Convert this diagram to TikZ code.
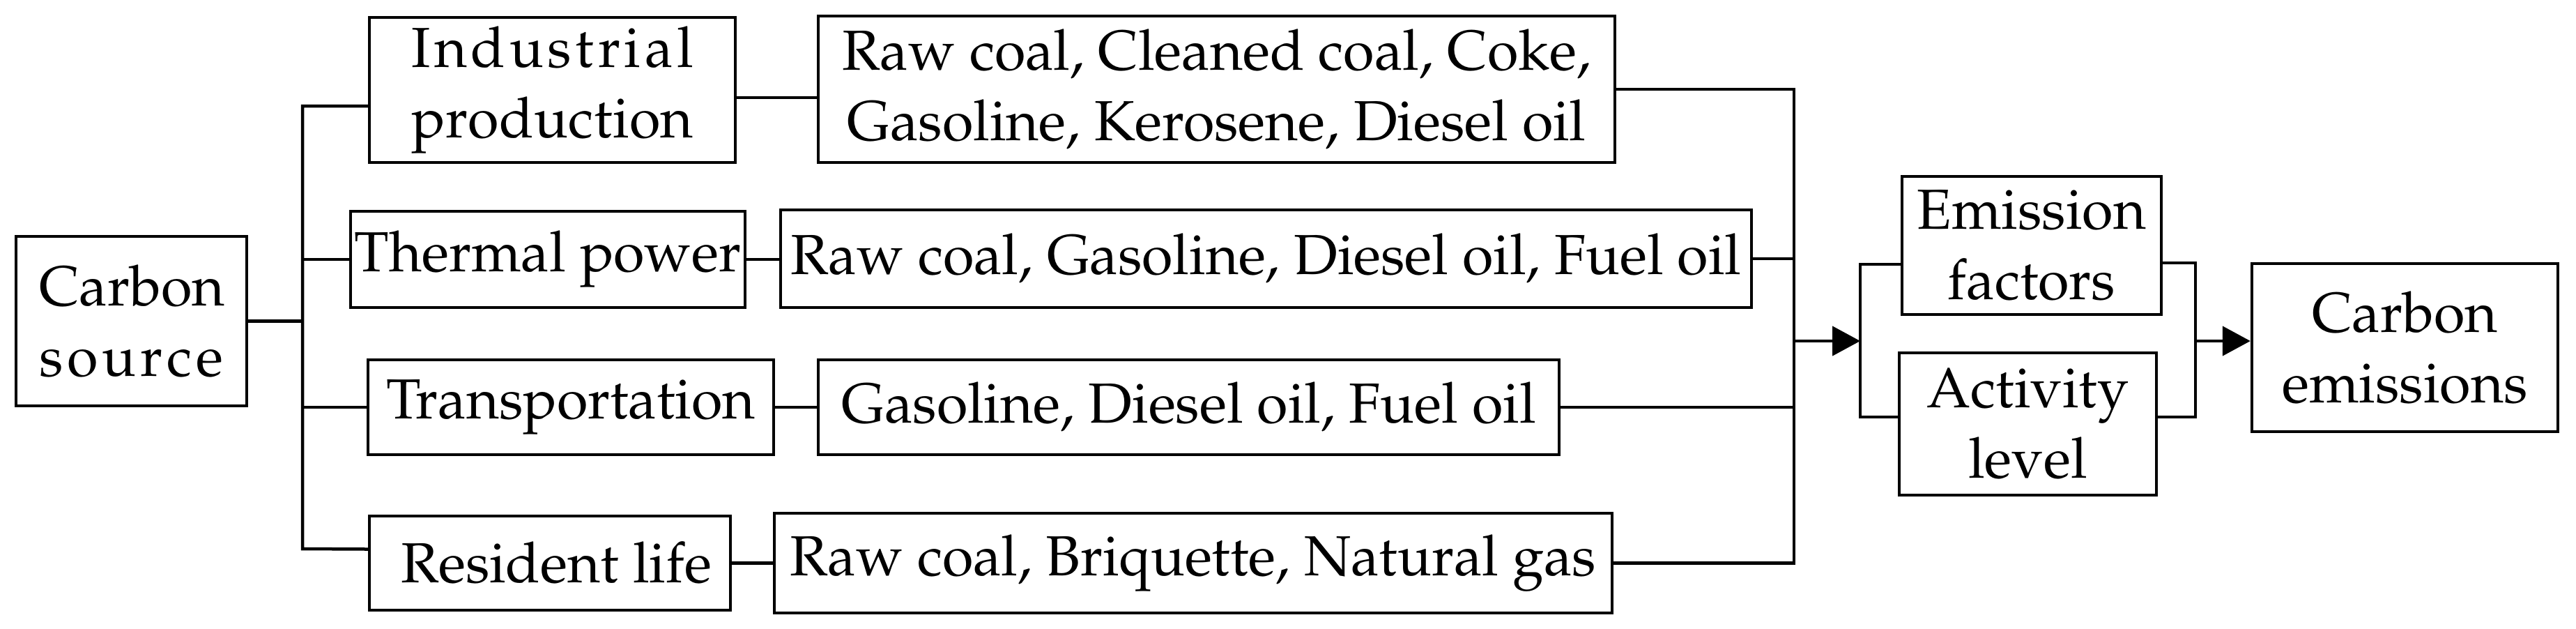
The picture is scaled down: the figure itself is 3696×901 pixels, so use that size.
\documentclass[tikz,border=0pt]{standalone}
\usepackage[T1]{fontenc}
\usepackage{mathpazo}
\usepackage{calc}
\usetikzlibrary{arrows.meta}

\tikzset{
  box/.style={draw, line width=0.45pt, align=center, inner sep=0pt, font=\fontsize{8.1}{10.1}\selectfont},
  link/.style={line width=0.45pt},
  feed/.style={line width=0.45pt, -{Triangle[length=4pt,width=4.2pt]}}
}
\newcommand{\spreadword}[2]{\makebox[#1][s]{#2}}

\begin{document}
\begin{tikzpicture}[x=0.1pt,y=-0.1pt]
    \useasboundingbox (0,0) rectangle (3696,901);
    % sources and sectors
    \node[box, minimum width=33.1pt, minimum height=24.3pt] (src) at (188.5,460.5) {\spreadword{26.4pt}{C\hfill a\hfill r\hfill b\hfill o\hfill n}\\\spreadword{26.4pt}{s\hfill o\hfill u\hfill r\hfill c\hfill e}};
    \node[box, minimum width=52.5pt, minimum height=20.8pt] (ind) at (792.5,129) {\spreadword{40.5pt}{I\hfill n\hfill d\hfill u\hfill s\hfill t\hfill r\hfill i\hfill a\hfill l}\\\spreadword{40.5pt}{p\hfill r\hfill o\hfill d\hfill u\hfill c\hfill t\hfill i\hfill o\hfill n}};
    \node[box, minimum width=56.6pt, minimum height=13.8pt] (thp) at (786,372) {Thermal power};
    \node[box, minimum width=58.2pt, minimum height=13.6pt] (trn) at (819,584) {Transportation};
    \node[box, minimum width=51.8pt, minimum height=13.5pt] (res) at (789,807.5) {\hspace{1.8pt}Resident life};
    % fuels
    \node[box, minimum width=114.3pt, minimum height=21pt] (fuel1) at (1745.5,128) {Raw coal, Cleaned coal, Coke,\\Gasoline, Kerosene, Diesel oil};
    \node[box, minimum width=139.3pt, minimum height=14pt] (fuel2) at (1816.5,371) {Raw coal, Gasoline, Diesel oil, Fuel oil};
    \node[box, minimum width=106.3pt, minimum height=13.6pt] (fuel3) at (1705.5,584) {Gasoline, Diesel oil, Fuel oil};
    \node[box, minimum width=120.2pt, minimum height=14.3pt] (fuel4) at (1712,807.5) {Raw coal, Briquette, Natural gas};
    % factors and result
    \node[box, minimum width=37.2pt, minimum height=19.8pt] (emf) at (2915,352) {Emission\\factors};
    \node[box, minimum width=36.9pt, minimum height=20.4pt] (act) at (2909.5,608) {Activity\\level};
    \node[box, minimum width=43.9pt, minimum height=24.1pt] (out) at (3450.5,498.5) {Carbon\\emissions};

    \coordinate (tb) at (434,787);
    \coordinate (merge) at (2574,489);
    \coordinate (lb) at (2669,489);
    \coordinate (rb) at (3150,489);

    \draw[link] (src.east) -- (src.east -| tb);
    \draw[link] ([yshift=-2.3pt]ind.west) -| (tb) -- ([yshift=2pt]res.west);
    \draw[link] (thp.west -| tb) -- (thp.west);
    \draw[link] (trn.west -| tb) -- (trn.west);

    \draw[link] ([yshift=-1.1pt]ind.east) -- ([yshift=-1.1pt]ind.east -| fuel1.west);
    \draw[link] (thp.east) -- (thp.east -| fuel2.west);
    \draw[link] (trn.east) -- (trn.east -| fuel3.west);
    \draw[link] (res.east) -- (res.east -| fuel4.west);

    \draw[link] (fuel1.east) -| (merge |- fuel4.east) -- (fuel4.east);
    \draw[link] (fuel2.east) -- (fuel2.east -| merge);
    \draw[link] (fuel3.east) -- (fuel3.east -| merge);
    \draw[feed] (merge) -- (lb);

    \draw[link] ([yshift=-2.7pt]emf.west) -| (lb) |- ([yshift=1pt]act.west);
    \draw[link] ([yshift=-2.5pt]emf.east) -| (rb) |- ([yshift=1pt]act.east);
    \draw[feed] (rb) -- (rb -| out.west);
\end{tikzpicture}
\end{document}
